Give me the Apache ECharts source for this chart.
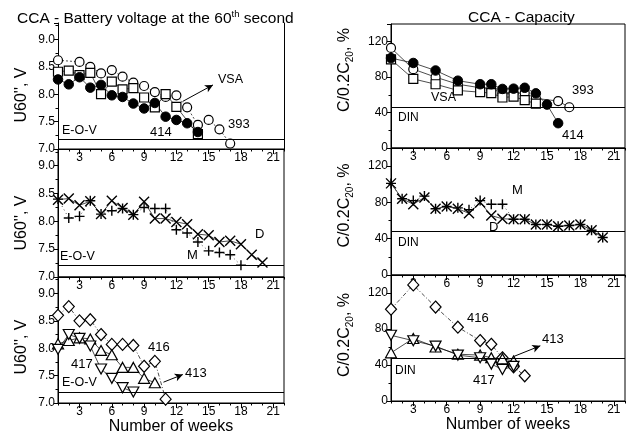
<!DOCTYPE html>
<html><head><meta charset="utf-8">
<script src="https://cdn.jsdelivr.net/npm/echarts@6/dist/echarts.min.js"></script>
<style>html,body{margin:0;padding:0;background:#fff}#c{width:632px;height:437px}</style>
</head><body><div id="c"></div>
<script>
// ---------- DATA ----------
// Panel A: voltage, VSA group
const wA393 = [1,3,4,5,6,7,8,9,10,11,12,13,14,15,16,17];
const vA393 = [8.62,8.59,8.50,8.38,8.44,8.32,8.21,8.15,8.04,7.95,7.98,7.76,7.44,7.53,7.36,7.10];
const wAvsa = [1,2,3,4,5,6,7,8,9,10,11,12,14];
const vAvsa = [8.41,8.43,8.35,8.39,8.00,8.23,8.09,8.11,7.94,7.76,8.00,7.77,7.27];
const wA414 = [1,2,3,4,5,6,7,8,9,10,11,12,13,14];
const vA414 = [8.27,8.18,8.31,8.12,8.17,7.98,7.95,7.83,7.74,7.84,7.59,7.53,7.47,7.31];
// Panel B: voltage, D and M
const wBD = [1,2,3,4,5,6,7,8,9,10,11,12,13,14,15,16,17,18,19,20];
const vBD = [8.39,8.41,8.29,8.36,8.13,8.37,8.24,8.12,8.35,8.05,8.05,7.99,7.95,7.77,7.75,7.63,7.65,7.59,7.40,7.26];
const wBM = [1,2,3,4,5,6,7,8,9,10,11,12,13,14,15,16,17,18];
const vBM = [8.40,8.06,8.09,8.37,8.13,8.19,8.23,8.12,8.25,8.23,8.23,7.85,7.79,7.63,7.47,7.44,7.40,7.21];
// Panel C: voltage, 416 / 413 / 417
const wC416 = [1,2,3,4,5,6,7,8,9,10,11];
const vC416 = [8.60,8.76,8.50,8.52,8.25,8.07,8.07,8.05,7.67,7.76,7.07];
const wC413 = [1,2,3,4,5,6,7,8,9,10];
const vC413 = [8.08,8.14,8.19,8.17,7.96,7.88,7.65,7.65,7.45,7.37];
const wC417 = [1,2,3,4,5,6,7,8];
const vC417 = [7.98,8.25,8.18,8.04,7.62,7.45,7.28,7.20];
// Panel D: capacity, VSA group
const wD393 = [1,3,5,7,9,10,11,12,13,14,16,17];
const cD393 = [113,89,80,72,68,67,62,62,62,56,53,46];
const wDvsa = [1,3,5,7,9,10,11,12,13,14];
const cDvsa = [100,78,72,65,63,62,57,58,54,50];
const wD414 = [1,3,5,7,9,10,11,12,13,14,15,16];
const cD414 = [101.5,96,87.5,76,72,72,66.7,67,68,61.7,49,28];
// Panel E: capacity, D and M
const wED = [1,2,3,4,5,6,7,8,9,10,11,12,13,14,15,16,17,18,19,20];
const cED = [101,84,78,85.5,73,75.5,73,68,80,65.5,62,61.5,61.5,55.7,55.7,53.7,54.5,55.7,49.4,41.3];
const wEM = [1,2,3,4,5,6,7,8,9,10,11,12,13,14,15,16,17,18,19,20];
const cEM = [101,84,82,87,73,75.5,74,72,82,78,78,61.5,61.5,55.7,55.7,53.7,54.5,55.7,49.4,41.3];
// Panel F: capacity, 416 / 413 / 417
const wF416 = [1,3,5,7,9,10,11,12,13];
const cF416 = [102,129,104.4,82,67.2,63,48,38,28];
const wF413 = [1,3,5,7,9,10,11,12];
const cF413 = [53.5,69.5,60,52,51,48,47,44.5];
const wF417 = [1,3,5,7,9,10,11,12];
const cF417 = [73,67,61,51,48,41,35,38.5];
// Reference limits
const EOV = [7.17, 7.21, 7.20];
const DIN = [46.5, 48, 48];
// Tick labels
const weekTicks = [3,6,9,12,15,18,21];
// Arrow annotations (data coords)
const arrowA = [[12.6,7.87],[15.4,8.17]];
const arrowC = [[10.8,7.38],[12.6,7.52]];
const arrowF = [[12.0,49.4],[14.4,61.3]];

// ---------- CHART ----------
const FF = '"Liberation Sans", Arial, sans-serif';
const CROSS = 'path://M0,0L10,10M0,10L10,0';
const PLUS = 'path://M5,0L5,10M0,5L10,5';
const pairs = (w, v) => w.map((x, i) => [x, v[i]]);

const grids = [
  {left:58, top:23, width:226, height:126, show:false},
  {left:58, top:149, width:226, height:128},
  {left:58, top:277, width:226, height:126},
  {left:391, top:24, width:234, height:124},
  {left:391, top:148, width:234, height:127},
  {left:391, top:275, width:234, height:126}
].map(g => Object.assign({show:true, borderColor:'#000', borderWidth:1, backgroundColor:'transparent'}, g));

const xAxes = [], yAxes = [];
for (let i = 0; i < 6; i++) {
  const bottom = (i === 2 || i === 5);
  xAxes.push({
    gridIndex:i, type:'value', min:1, max:22, interval:1,
    axisLine:{show:true, lineStyle:{color:'#000', width:1}},
    axisTick:{show:true, length:2.5, lineStyle:{color:'#000'}},
    axisLabel:{color:'#000', fontSize:12, fontFamily:FF, margin:3,
      formatter: v => weekTicks.includes(v) ? String(v) : ''},
    splitLine:{show:false},
    name: bottom ? 'Number of weeks' : '',
    nameLocation:'middle', nameGap:15,
    nameTextStyle:{color:'#000', fontSize:16, fontFamily:FF}
  });
}
for (let i = 0; i < 6; i++) {
  xAxes.push({
    gridIndex:i, type:'value', min:1, max:22, position:'bottom',
    axisLine:{show:false},
    axisTick:{show:true, length:5, customValues:weekTicks, lineStyle:{color:'#000'}},
    axisLabel:{show:false}, splitLine:{show:false}
  });
}
const leftPad = [[0,18,0,0],[0,20,0,0],[0,14,0,0]];
for (let i = 0; i < 3; i++) {
  yAxes.push({
    gridIndex:i, type:'value', min:7, max:9.3, interval:0.5,
    axisLine:{show:true, lineStyle:{color:'#000'}},
    axisTick:{show:true, length:4, lineStyle:{color:'#000'}},
    minorTick:{show:true, splitNumber:2, length:2.5, lineStyle:{color:'#000'}},
    axisLabel:{color:'#000', fontSize:12, fontFamily:FF, margin:3, showMaxLabel:false,
      formatter: v => (Math.abs(v*2 - Math.round(v*2)) < 1e-6) ? v.toFixed(1) : ''},
    splitLine:{show:false},
    name:"U60'', V", nameLocation:'middle', nameGap:28,
    nameTextStyle:{color:'#000', fontSize:16, fontFamily:FF, padding:leftPad[i]}
  });
}
const rightPad = [[0,0,0,32],[0,0,0,12],[0,0,0,6]];
for (let i = 3; i < 6; i++) {
  yAxes.push({
    gridIndex:i, type:'value', min:0, max:140, interval:40,
    axisLine:{show:true, lineStyle:{color:'#000'}},
    axisTick:{show:true, length:4, lineStyle:{color:'#000'}},
    minorTick:{show:true, splitNumber:2, length:2.5, lineStyle:{color:'#000'}},
    axisLabel:{color:'#000', fontSize:12, fontFamily:FF, margin:3, showMaxLabel:false,
      formatter: v => (v % 40 === 0) ? String(v) : ''},
    splitLine:{show:false},
    name:'{a|C/0.2C}{s|20}{a|, %}', nameLocation:'middle', nameGap:36,
    nameTextStyle:{color:'#000', fontFamily:FF, padding:rightPad[i-3],
      rich:{a:{fontSize:16, fontFamily:FF, color:'#000', lineHeight:20},
            s:{fontSize:10, fontFamily:FF, color:'#000', lineHeight:20, padding:[10,0,0,0]}}}
  });
}
// right-hand frame line for the top-left panel (no top border there)
yAxes.push({
  gridIndex:0, type:'value', min:7, max:9.3, position:'right',
  axisLine:{show:true, lineStyle:{color:'#000'}}, axisTick:{show:false},
  axisLabel:{show:false}, splitLine:{show:false}
});

function ser(idx, data, opt) {
  const o = {
    type:'line', xAxisIndex:idx, yAxisIndex:idx, data:data,
    symbol:'circle', symbolSize:9, symbolKeepAspect:true,
    lineStyle:{color:'#000', width:0.7, type:'solid'},
    itemStyle:{color:'#fff', borderColor:'#000', borderWidth:1.2},
    emphasis:{disabled:true}, z:3
  };
  return Object.assign(o, opt || {});
}
const openC = {color:'#fff', borderColor:'#000', borderWidth:1.2};
const fillC = {color:'#000', borderColor:'#000', borderWidth:1};
const strokeOnly = {color:'rgba(0,0,0,0)', borderColor:'#000', borderWidth:1.4};
function refLine(v) {
  return {silent:true, symbol:'none', label:{show:false}, animation:false,
    lineStyle:{color:'#000', width:1, type:'solid'}, data:[{yAxis:v}]};
}
function arrow(a) {
  return {silent:true, symbol:['none','arrow'], symbolSize:[6,8], label:{show:false}, animation:false,
    lineStyle:{color:'#000', width:1, type:'solid'},
    data:[[{coord:a[0]},{coord:a[1]}]]};
}

const series = [
  ser(0, pairs(wA393, vA393), {itemStyle:openC, lineStyle:{color:'#000', width:0.7, type:[2,2]}, markLine:refLine(EOV[0])}),
  ser(0, pairs(wAvsa, vAvsa), {symbol:'rect', symbolSize:9, itemStyle:openC, markLine:arrow(arrowA)}),
  ser(0, pairs(wA414, vA414), {symbolSize:9.5, itemStyle:fillC}),

  ser(1, pairs(wBD, vBD), {symbol:CROSS, symbolSize:10, itemStyle:strokeOnly, markLine:refLine(EOV[1])}),
  ser(1, pairs(wBM, vBM), {symbol:PLUS, symbolSize:10, itemStyle:strokeOnly, lineStyle:{color:'#000', width:0.7, type:[1,3]}}),

  ser(2, pairs(wC416, vC416), {symbol:'diamond', symbolSize:[11,12], itemStyle:openC, lineStyle:{color:'#000', width:0.7, type:[4,2,1,2]}, markLine:refLine(EOV[2])}),
  ser(2, pairs(wC413, vC413), {symbol:'triangle', symbolSize:[11,10], itemStyle:openC, markLine:arrow(arrowC)}),
  ser(2, pairs(wC417, vC417), {symbol:'triangle', symbolRotate:180, symbolSize:[11,10], itemStyle:openC}),

  ser(3, pairs(wD393, cD393), {itemStyle:openC, markLine:refLine(DIN[0])}),
  ser(3, pairs(wDvsa, cDvsa), {symbol:'rect', symbolSize:9, itemStyle:openC}),
  ser(3, pairs(wD414, cD414), {symbolSize:9.5, itemStyle:fillC}),

  ser(4, pairs(wED, cED), {symbol:CROSS, symbolSize:10, itemStyle:strokeOnly, markLine:refLine(DIN[1])}),
  ser(4, pairs(wEM, cEM), {symbol:PLUS, symbolSize:10, itemStyle:strokeOnly, lineStyle:{color:'#000', width:0.7, type:[1,3]}}),

  ser(5, pairs(wF416, cF416), {symbol:'diamond', symbolSize:[11,12], itemStyle:openC, lineStyle:{color:'#000', width:0.7, type:[4,2,1,2]}, markLine:refLine(DIN[2])}),
  ser(5, pairs(wF413, cF413), {symbol:'triangle', symbolSize:[11,10], itemStyle:openC, markLine:arrow(arrowF)}),
  ser(5, pairs(wF417, cF417), {symbol:'triangle', symbolRotate:180, symbolSize:[11,10], itemStyle:openC})
];

const txt = (t, x, y, size) => ({type:'text', silent:true, z:10,
  style:{text:t, x:x, y:y, fill:'#000', font:(size||12.5)+'px '+FF, align:'left', verticalAlign:'middle'}});
const graphic = [
  txt('E-O-V', 62, 131), txt('414', 150, 132, 13), txt('393', 228, 124, 13), txt('VSA', 218, 80, 12.5),
  txt('E-O-V', 60, 257), txt('M', 187, 255, 13), txt('D', 255, 234, 13),
  txt('416', 148, 347, 13), txt('417', 71, 364, 13), txt('413', 185, 373, 13), txt('E-O-V', 62, 383),
  txt('VSA', 431, 98, 12.5), txt('DIN', 398, 118, 12), txt('393', 572, 90, 13), txt('414', 562, 135, 13),
  txt('M', 512, 190, 13), txt('D', 489, 227, 13), txt('DIN', 398, 243, 12),
  txt('416', 467, 318, 13), txt('417', 473, 380, 13), txt('413', 542, 339, 13), txt('DIN', 395, 371, 12)
];

const chart = echarts.init(document.getElementById('c'), null, {renderer:'canvas'});
chart.setOption({
  animation:false,
  backgroundColor:'#fff',
  title:[
    {text:'{a|CCA - Battery voltage at the 60}{s|th}{a| second}', left:12, top:4,
     textStyle:{fontWeight:'normal', rich:{a:{fontSize:15.5, fontFamily:FF, fontWeight:'normal', color:'#000', lineHeight:20},
                      s:{fontSize:9.5, fontFamily:FF, fontWeight:'normal', color:'#000', lineHeight:20, padding:[0,0,9,0]}}}},
    {text:'CCA - Capacity', left:463, top:5, textStyle:{fontSize:15.5, fontFamily:FF, color:'#000', fontWeight:'normal'}}
  ],
  grid:grids, xAxis:xAxes, yAxis:yAxes, series:series, graphic:graphic
});
</script></body></html>
